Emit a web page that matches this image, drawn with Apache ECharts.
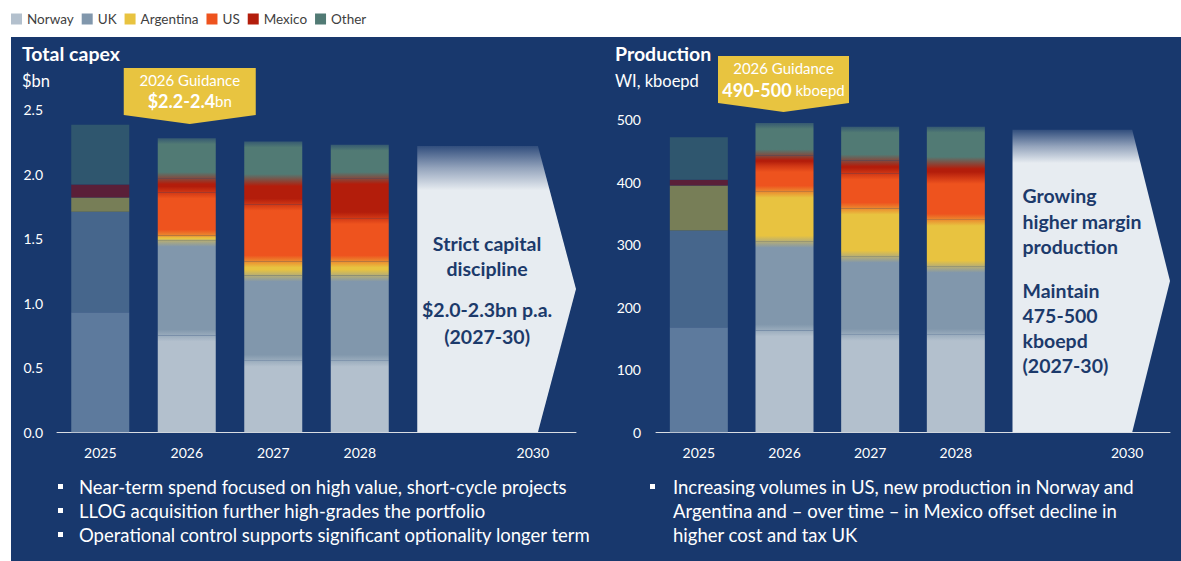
<!DOCTYPE html>
<html><head><meta charset="utf-8">
<script src="https://cdn.jsdelivr.net/npm/echarts/dist/echarts.min.js"></script>
<style>
html,body{margin:0;padding:0;background:#fff;}
#bg{position:absolute;left:11px;top:37px;width:1170px;height:524px;background:#18386d;}
#c{position:absolute;left:0;top:0;width:1181px;height:561px;}
</style>
</head><body><div id="bg"></div><div id="c"></div>
<script>
// ---------- data ----------
const years = ['2025','2026','2027','2028','2029','2030'];
const countries = ['Norway','UK','Argentina','US','Mexico','Other'];

// Total capex, $bn (2025 actual, 2026-2028 plan)
const capexNorway    = [0.93, 0.75, 0.555, 0.555];
const capexUK        = [0.78, 0.735, 0.66, 0.66];
const capexArgentina = [0.11, 0.04, 0.11, 0.11];
const capexUS        = [0.00, 0.334, 0.44, 0.335];
const capexMexico    = [0.10, 0.111, 0.19, 0.31];
const capexOther     = [0.465, 0.31, 0.30, 0.26];
const capexArrowTop  = 2.22;   // 2029-2030 outlook band

// Production, WI kboepd
const prodNorway    = [168, 163, 156, 156];
const prodUK        = [155, 142, 125, 109];
const prodArgentina = [72, 80, 77, 75];
const prodUS        = [0, 41, 56, 67];
const prodMexico    = [9, 17, 21, 24];
const prodOther     = [68, 52, 54, 58];
const prodArrowTop  = 484;

const capexTicks = [0, 0.5, 1.0, 1.5, 2.0, 2.5];
const prodTicks  = [0, 100, 200, 300, 400, 500];

const capexArrowText = ['Strict capital', 'discipline', '', '$2.0-2.3bn p.a.', '(2027-30)'];
const prodArrowText  = ['Growing', 'higher margin', 'production', '', 'Maintain', '475-500', 'kboepd', '(2027-30)'];

const capexBullets = ['Near-term spend focused on high value, short-cycle projects',
                      'LLOG acquisition further high-grades the portfolio',
                      'Operational control supports significant optionality longer term'];
const prodBullets  = ['Increasing volumes in US, new production in Norway and',
                      'Argentina and \u2013 over time \u2013 in Mexico offset decline in',
                      'higher cost and tax UK'];

// ---------- styles ----------
const NAVY = '#18386d';
const FONT = 'Lato, "Open Sans", sans-serif';
const colors     = {Norway:'#b3c0cd', UK:'#8197ac', Argentina:'#e8c340', US:'#ee531e', Mexico:'#b31d0b', Other:'#517a74'};
const colors2025 = {Norway:'#5d7a9d', UK:'#46668c', Argentina:'#777e57', US:'#7a4a45', Mexico:'#5a1f38', Other:'#2f566e'};
const BAR_W = 58;

function hex2rgb(h){h=h.replace('#','');return [0,2,4].map(i=>parseInt(h.substr(i,2),16));}
function mix(a,b,t){const A=hex2rgb(a),B=hex2rgb(b);return 'rgb('+A.map((v,i)=>Math.round(v*(1-t)+B[i]*t)).join(',')+')';}

function buildSeries(sets, stack, xi, yi, pxPerUnit){
  const out = [];
  countries.forEach((name, k) => {
    const vals = sets[k];
    const data = years.map((y, j) => {
      if (j >= vals.length) return '-';
      const v = vals[j];
      if (j === 0) return {value: v, itemStyle: {color: colors2025[name]}};
      if (!v) return {value: v};
      let above = NAVY;
      for (let m = k+1; m < countries.length; m++) if (sets[m][j] > 0) {above = colors[countries[m]]; break;}
      let below = colors[name];
      for (let m = k-1; m >= 0; m--) if (sets[m][j] > 0) {below = colors[countries[m]]; break;}
      const h = v * pxPerUnit;
      const t = Math.min(0.45, 6 / h);
      const own = colors[name];
      return {value: v, itemStyle: {color: {type:'linear', x:0, y:0, x2:0, y2:1, colorStops:[
        {offset:0, color: mix(own, above, 0.5)},
        {offset:t, color: own},
        {offset:1-t, color: own},
        {offset:1, color: mix(own, below, 0.5)}
      ]}}};
    });
    out.push({type:'bar', name, stack, xAxisIndex:xi, yAxisIndex:yi, barWidth:BAR_W,
      itemStyle:{color: colors[name]}, data, animation:false});
  });
  return out;
}

function arrowSeries(xi, yi, top, lines, mode, fadeFrac){
  return {
    type:'custom', xAxisIndex:xi, yAxisIndex:yi, animation:false, silent:true,
    encode:{x:[0,1], y:2},
    data:[[4, 5, top]],
    renderItem(params, api){
      const pA = api.coord([api.value(0), api.value(2)]);
      const pB = api.coord([api.value(1), 0]);
      const band = api.size([1, 0])[0];
      const x0 = pA[0] - BAR_W/2, xTip = pB[0] + band/2;
      const yTop = pA[1], yBot = pB[1], yMid = (yTop + yBot)/2;
      const xc = xTip - 0.24*(xTip - x0);
      const children = [{
        type:'polygon',
        shape:{points:[[x0,yTop],[xc,yTop],[xTip,yMid],[xc,yBot],[x0,yBot]]},
        style:{fill:{type:'linear', x:0, y:0, x2:0, y2:1, colorStops:[
          {offset:0, color:'rgba(231,236,241,0.12)'},
          {offset:fadeFrac*0.5, color:'rgba(231,236,241,0.6)'},
          {offset:fadeFrac, color:'#e7ecf1'},
          {offset:1, color:'#e7ecf1'}]}}
      }];
      const offC = [0, 25, 0, 66.5, 93];
      const offL = [0, 26.5, 51.5, 0, 95, 120, 145, 170];
      lines.forEach((ln, i) => {
        if (!ln) return;
        const y = mode === 'center' ? yMid - 46 + offC[i] : yMid - 86 + offL[i];
        children.push({type:'text', style:{
          text: ln, x: mode === 'center' ? x0 + 0.44*(xTip - x0) : x0 + 10, y,
          align: mode === 'center' ? 'center' : 'left', verticalAlign:'middle',
          fill:'#1c3a6b', font:'bold 19.5px ' + FONT}});
      });
      return {type:'group', children};
    }
  };
}

const axisCommon = {
  axisLine:{show:true, lineStyle:{color:'#d9dde3', width:1}},
  axisTick:{show:false}, splitLine:{show:false}
};

const chart = echarts.init(document.getElementById('c'), null, {renderer:'svg'});
chart.setOption({
  backgroundColor:'transparent',
  textStyle:{fontFamily:FONT},
  legend:{left:11, top:12, padding:0, itemWidth:11, itemHeight:11, itemGap:8, icon:'rect',
    data:countries, textStyle:{color:'#404040', fontSize:13.5, fontFamily:FONT}, selectedMode:false},
  grid:[
    {left:57, top:109.8, width:519, height:322.5, outerBoundsMode:'none', containLabel:false},
    {left:656, top:119.8, width:514, height:312.5, outerBoundsMode:'none', containLabel:false}
  ],
  xAxis:[
    Object.assign({type:'category', gridIndex:0, data:years,
      axisLabel:{color:'#fff', fontSize:14, margin:13, fontFamily:FONT, formatter:v => v==='2029' ? '' : v}}, axisCommon),
    Object.assign({type:'category', gridIndex:1, data:years,
      axisLabel:{color:'#fff', fontSize:14, margin:13, fontFamily:FONT, formatter:v => v==='2029' ? '' : v}}, axisCommon)
  ],
  yAxis:[
    {type:'value', gridIndex:0, min:capexTicks[0], max:capexTicks[capexTicks.length-1], interval:0.5,
     axisLine:{show:false}, axisTick:{show:false}, splitLine:{show:false},
     axisLabel:{color:'#fff', fontSize:14, margin:14, fontFamily:FONT, formatter:v => v.toFixed(1)}},
    {type:'value', gridIndex:1, min:prodTicks[0], max:prodTicks[prodTicks.length-1], interval:100,
     axisLine:{show:false}, axisTick:{show:false}, splitLine:{show:false},
     axisLabel:{color:'#fff', fontSize:14, margin:15, fontFamily:FONT}}
  ],
  series: [].concat(
    buildSeries([capexNorway,capexUK,capexArgentina,capexUS,capexMexico,capexOther], 'capex', 0, 0, 129),
    buildSeries([prodNorway,prodUK,prodArgentina,prodUS,prodMexico,prodOther], 'prod', 1, 1, 0.625),
    [arrowSeries(0, 0, capexArrowTop, capexArrowText, 'center', 0.155),
     arrowSeries(1, 1, prodArrowTop, prodArrowText, 'left', 0.11)]
  )
});

// ---------- annotations ----------
const cxL = chart.convertToPixel({xAxisIndex:0}, '2026') + 3;
const cxR = chart.convertToPixel({xAxisIndex:1}, '2026') - 1;
function callout(cx, hw, top, sideBot, tip){
  return {type:'polygon', z:50, shape:{points:[[cx-hw,top],[cx+hw,top],[cx+hw,sideBot],[cx,tip],[cx-hw,sideBot]]},
    style:{fill:'#e8c440'}};
}
const white = '#ffffff';
const g = [
  {type:'text', x:22, y:53, style:{text:'Total capex', fill:white, font:'bold 19.5px '+FONT, verticalAlign:'middle'}},
  {type:'text', x:22, y:81, style:{text:'$bn', fill:white, font:'16.5px '+FONT, verticalAlign:'middle'}},
  {type:'text', x:615, y:53, style:{text:'Production', fill:white, font:'bold 19.5px '+FONT, verticalAlign:'middle'}},
  {type:'text', x:615, y:81, style:{text:'WI, kboepd', fill:white, font:'16.5px '+FONT, verticalAlign:'middle'}},
  callout(cxL, 66, 68, 115, 124),
  {type:'text', z:51, x:cxL, y:80, style:{text:'2026 Guidance', fill:white, font:'15px '+FONT, align:'center', verticalAlign:'middle'}},
  {type:'text', z:51, x:cxL, y:101, style:{text:'{b|$2.2-2.4}{n|bn}', align:'center', verticalAlign:'middle',
     rich:{b:{fill:white, font:'bold 18px '+FONT}, n:{fill:white, font:'15px '+FONT}}}},
  callout(cxR, 65.5, 56, 103, 112),
  {type:'text', z:51, x:cxR, y:68, style:{text:'2026 Guidance', fill:white, font:'15px '+FONT, align:'center', verticalAlign:'middle'}},
  {type:'text', z:51, x:cxR, y:90, style:{text:'{b|490-500}{n| kboepd}', align:'center', verticalAlign:'middle',
     rich:{b:{fill:white, font:'bold 18px '+FONT}, n:{fill:white, font:'15px '+FONT}}}}
];
const lineY = [487, 511, 535];
capexBullets.forEach((t, i) => {
  g.push({type:'rect', shape:{x:58, y:lineY[i]-3, width:5, height:5}, style:{fill:white}});
  g.push({type:'text', x:79, y:lineY[i], style:{text:t, fill:white, font:'18.5px '+FONT, verticalAlign:'middle'}});
});
prodBullets.forEach((t, i) => {
  if (i === 0) g.push({type:'rect', shape:{x:650, y:lineY[i]-3, width:5, height:5}, style:{fill:white}});
  g.push({type:'text', x:673, y:lineY[i], style:{text:t, fill:white, font:'18.5px '+FONT, verticalAlign:'middle'}});
});
chart.setOption({graphic:{elements:g}});
</script>
</body></html>
